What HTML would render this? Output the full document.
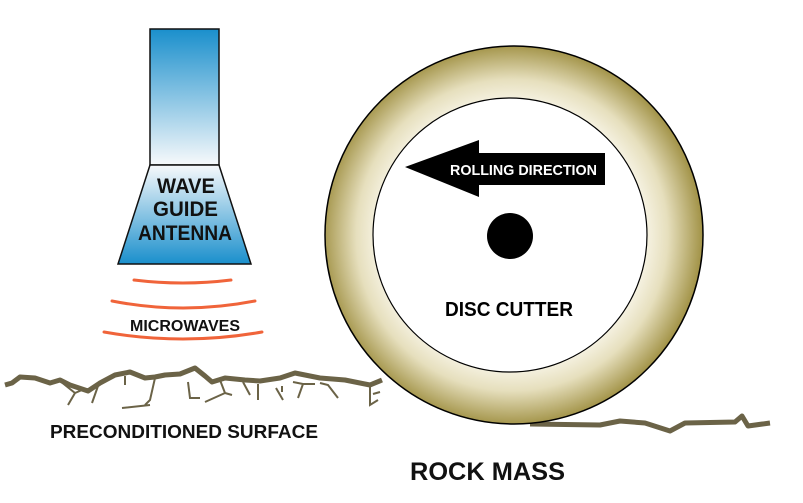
<!DOCTYPE html>
<html><head><meta charset="utf-8"><style>
html,body{margin:0;padding:0;background:#fff;}
svg{display:block;}
text{font-family:"Liberation Sans",sans-serif;font-weight:bold;}
</style></head><body>
<svg width="803" height="503" viewBox="0 0 803 503" xmlns="http://www.w3.org/2000/svg">
<defs>
<linearGradient id="g1" x1="0" y1="0" x2="0" y2="1">
<stop offset="0" stop-color="#1a8fcc"/><stop offset="1" stop-color="#f7f9fb"/></linearGradient>
<linearGradient id="g2" x1="0" y1="0" x2="0" y2="1">
<stop offset="0" stop-color="#f7f9fb"/><stop offset="1" stop-color="#1a8fcc"/></linearGradient>
<radialGradient id="ring" cx="512" cy="235" r="190" gradientUnits="userSpaceOnUse">
<stop offset="0.72" stop-color="#f4f0de"/><stop offset="0.82" stop-color="#e6dfbd"/><stop offset="1" stop-color="#a39449"/></radialGradient>
</defs>
<path d="M530,424 L600,425 L620,421 L645,423 L670,431 L685,423 L735,422 L742,416 L748,426 L770,423" fill="none" stroke="#6b6347" stroke-width="5" stroke-linejoin="round"/>
<circle cx="514" cy="235" r="189" fill="url(#ring)" stroke="#000" stroke-width="1.5"/>
<circle cx="510" cy="235" r="137" fill="#fff" stroke="#000" stroke-width="1.2"/>
<circle cx="510" cy="236" r="23" fill="#000"/>
<polygon points="405,167 479,140 479,153 605,153 605,185 479,185 479,197" fill="#000"/>
<text x="450" y="175" font-size="15" fill="#fff" textLength="147" lengthAdjust="spacingAndGlyphs">ROLLING DIRECTION</text>
<text x="445" y="316" font-size="20" fill="#000" textLength="128" lengthAdjust="spacingAndGlyphs">DISC CUTTER</text>
<path d="M5,385 L12,383 L20,377 L35,378 L50,383 L60,380 L70,385 L88,391 L100,383 L115,375 L130,372 L145,378 L155,377 L165,375 L180,374 L195,368 L205,376 L212,382 L225,378 L245,380 L260,381 L280,378 L295,373 L305,375 L320,378 L345,380 L370,385 L382,380" fill="none" stroke="#6b6347" stroke-width="5" stroke-linejoin="round"/>
<g stroke="#6b6347" stroke-width="2" fill="none">
<path d="M60,381 L75,393 L82,390 M75,393 L68,405"/>
<path d="M98,386 L92,403"/>
<path d="M125,376 L125,385"/>
<path d="M155,378 L150,400 L145,405 M122,408 L150,405"/>
<path d="M188,382 L190,398 L200,398"/>
<path d="M220,380 L225,393 L205,402 M225,393 L232,395"/>
<path d="M243,382 L250,395 M258,384 L258,400"/>
<path d="M276,388 L283,400 M282,386 L282,392"/>
<path d="M293,382 L303,384 L298,398 M303,384 L315,384"/>
<path d="M320,383 L328,385 L338,398"/>
<path d="M370,387 L370,405 L378,400 M373,394 L380,392"/>
</g>
<rect x="150" y="29" width="69" height="136" fill="url(#g1)" stroke="#111" stroke-width="1.5"/>
<polygon points="150,165 219,165 251,264 118,264" fill="url(#g2)" stroke="#111" stroke-width="1.5"/>
<text x="157" y="193" font-size="21" fill="#111" textLength="58" lengthAdjust="spacingAndGlyphs">WAVE</text>
<text x="153" y="216" font-size="21" fill="#111" textLength="65" lengthAdjust="spacingAndGlyphs">GUIDE</text>
<text x="138" y="240" font-size="21" fill="#111" textLength="94" lengthAdjust="spacingAndGlyphs">ANTENNA</text>
<g fill="none" stroke="#f0643a" stroke-width="3" stroke-linecap="round">
<path d="M134,280 Q183,286 231,280"/>
<path d="M112,301 Q183,315 255,301"/>
<path d="M104,332 Q183,346 262,332"/>
</g>
<text x="130" y="331" font-size="16" fill="#111" textLength="110" lengthAdjust="spacingAndGlyphs">MICROWAVES</text>
<text x="50" y="438" font-size="18" fill="#111" textLength="268" lengthAdjust="spacingAndGlyphs">PRECONDITIONED SURFACE</text>
<text x="410" y="480" font-size="25" fill="#111" textLength="155" lengthAdjust="spacingAndGlyphs">ROCK MASS</text>
</svg>
</body></html>
